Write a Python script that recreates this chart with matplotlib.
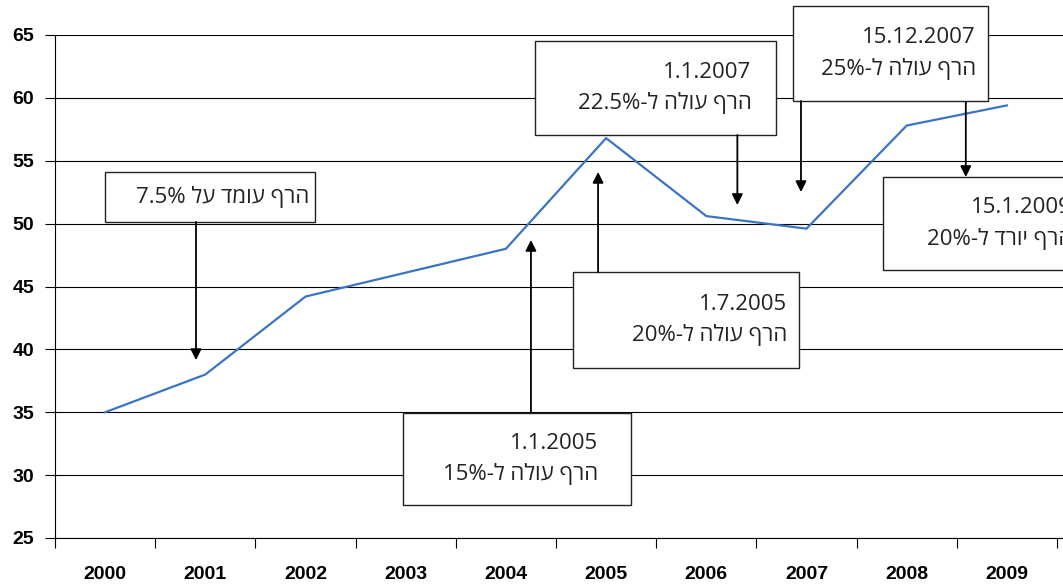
import re
import matplotlib.pyplot as plt
from matplotlib.patches import Rectangle
from matplotlib.ticker import FixedLocator, NullFormatter

# Dados
anos = ['2000', '2001', '2002', '2003', '2004', '2005', '2006', '2007', '2008', '2009']
valores = [35.0, 38.0, 44.2, 46.1, 48.0, 56.8, 50.6, 49.6, 57.8, 59.4]

# Anotações (texto lógico, direita-para-esquerda)
datas = ['', '1.1.2005', '1.7.2005', '1.1.2007', '15.12.2007', '15.1.2009']
frases = ['הרף עומד על 7.5%', 'הרף עולה ל-15%', 'הרף עולה ל-20%',
          'הרף עולה ל-22.5%', 'הרף עולה ל-25%', 'הרף יורד ל-20%']

# caixas: (x0, x1, y0, y1), seta: (x, y_inicio, y_fim) -- posições no gráfico
caixas = [(0.0, 2.095, 50.13, 54.11), (2.973, 5.249, 27.62, 34.94),
          (4.67, 6.925, 38.52, 46.15), (4.29, 6.696, 57.05, 64.52),
          (6.865, 8.81, 59.75, 67.31), (7.76, 9.70, 46.31, 53.71)]
setas = [(0.907, 50.13, 39.15), (4.25, 34.94, 48.7), (4.92, 46.15, 54.11),
         (6.31, 57.05, 51.48), (6.945, 59.75, 52.51), (8.59, 59.67, 53.71)]
texto_dir = [2.04, 4.92, 6.81, 6.45, 8.69, 9.65]


def visual(s):
    # ordem visual simples para texto hebraico
    r = s[::-1]
    return re.sub(r'[0-9.%]+', lambda m: m.group(0)[::-1], r)


fig = plt.figure(figsize=(10.63, 5.88), dpi=100)
ax = fig.add_axes([55 / 1063, 50 / 588, 1008 / 1063, 503 / 588])

x = list(range(len(anos)))
ax.plot(x, valores, color='#3B74C2', lw=1.6, zorder=2)

ax.set_xlim(-0.5, 9.56)
ax.set_ylim(25, 65)
ax.set_yticks(range(25, 66, 5))
ax.yaxis.grid(True, color='black', lw=0.8)
ax.set_axisbelow(True)

ax.set_xticks(x)
ax.set_xticklabels(anos)
ax.xaxis.set_minor_locator(FixedLocator([i - 0.5 for i in range(11)]))
ax.xaxis.set_minor_formatter(NullFormatter())
ax.tick_params(axis='x', which='major', length=0, pad=20)
ax.tick_params(axis='x', which='minor', length=7.5, width=0.8)
ax.tick_params(axis='y', length=7, width=0.8, pad=8)
for lab in ax.get_xticklabels() + ax.get_yticklabels():
    lab.set_fontfamily('Liberation Sans')
    lab.set_fontweight('bold')
    lab.set_fontsize(14)

for s in ['top', 'right']:
    ax.spines[s].set_visible(False)
ax.spines['left'].set_linewidth(0.8)
ax.spines['bottom'].set_linewidth(0.8)

fonte = ['Open Sans', 'DejaVu Sans']
for (x0, x1, y0, y1), (sx, sy0, sy1), xr, d, f in zip(caixas, setas, texto_dir, datas, frases):
    ax.add_patch(Rectangle((x0, y0), x1 - x0, y1 - y0, facecolor='white',
                           edgecolor='#222222', lw=1.0, zorder=4, clip_on=False))
    txt = visual(f) if not d else d + '\n' + visual(f)
    ax.text(xr, (y0 + y1) / 2, txt, ha='right', va='center', multialignment='right',
            fontsize=16, family=fonte, color='#222222', linespacing=1.55, zorder=5)
    ax.annotate('', xy=(sx, sy1), xytext=(sx, sy0),
                arrowprops=dict(arrowstyle='-|>', color='black', lw=1.3,
                                mutation_scale=16, shrinkA=0, shrinkB=0),
                zorder=5)

plt.savefig('out.png', dpi=100)
